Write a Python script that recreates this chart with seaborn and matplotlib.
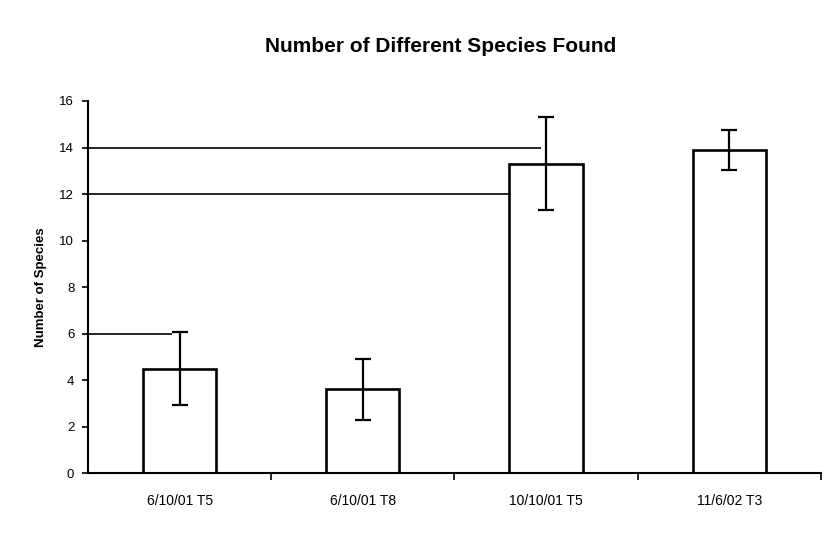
import matplotlib
matplotlib.use("Agg")
import matplotlib.pyplot as plt
import seaborn as sns
import pandas as pd

# Mean species count per sample and its error half-width
samples = ["6/10/01 T5", "6/10/01 T8", "10/10/01 T5", "11/6/02 T3"]
species = [4.5, 3.6, 13.3, 13.9]
errors = [1.55, 1.3, 2.0, 0.85]

# Reference levels drawn from the axis across to the bars
ref_levels = [6, 12, 14]
ref_ends = [-0.04, 1.8, 1.97]

y_ticks = [0, 2, 4, 6, 8, 10, 12, 14, 16]

sns.set_theme(style="white")
plt.rcParams["font.family"] = ["Liberation Sans", "DejaVu Sans"]
plt.rcParams["text.color"] = "black"
plt.rcParams["axes.labelcolor"] = "black"
plt.rcParams["xtick.color"] = "black"
plt.rcParams["ytick.color"] = "black"

df = pd.DataFrame({"sample": samples, "species": species})

fig = plt.figure(figsize=(8.24, 5.58), dpi=100)
ax = fig.add_axes([0.107, 0.152, 0.889, 0.667])

sns.barplot(data=df, x="sample", y="species", order=samples, ax=ax,
            color="white", edgecolor="black", linewidth=1.9, width=0.4,
            errorbar=None, saturation=1)

ax.errorbar(range(len(samples)), species, yerr=errors, fmt="none",
            ecolor="black", elinewidth=1.6, capsize=6, capthick=1.6, zorder=5)

for lvl, end in zip(ref_levels, ref_ends):
    ax.hlines(lvl, -0.5, end, color="black", linewidth=1.2, zorder=1)

ax.set_xlim(-0.5, 3.5)
ax.set_ylim(0, 16)
ax.set_yticks(y_ticks)
ax.set_yticklabels([str(t) for t in y_ticks], fontsize=9.5)
ax.set_xticks(range(len(samples)))
ax.set_xticklabels(samples, fontsize=10)

# Category separators on the x axis
ax.set_xticks([0.5, 1.5, 2.5, 3.5], minor=True)
ax.tick_params(axis="x", which="major", length=0, pad=15)
ax.tick_params(axis="x", which="minor", length=5, width=1.2, color="black",
               direction="out", bottom=True)
ax.tick_params(axis="y", which="major", length=4, width=1.2, color="black",
               direction="out", left=True, pad=6)

for side in ["top", "right"]:
    ax.spines[side].set_visible(False)
for side in ["left", "bottom"]:
    ax.spines[side].set_color("black")
    ax.spines[side].set_linewidth(1.5)

ax.set_xlabel("")
ax.set_ylabel("Number of Species", fontsize=9.5, fontweight="bold", labelpad=9)
fig.text(0.535, 0.917, "Number of Different Species Found", ha="center",
         va="center", fontsize=15, fontweight="bold")

fig.savefig("out.png", dpi=100, facecolor="white")
